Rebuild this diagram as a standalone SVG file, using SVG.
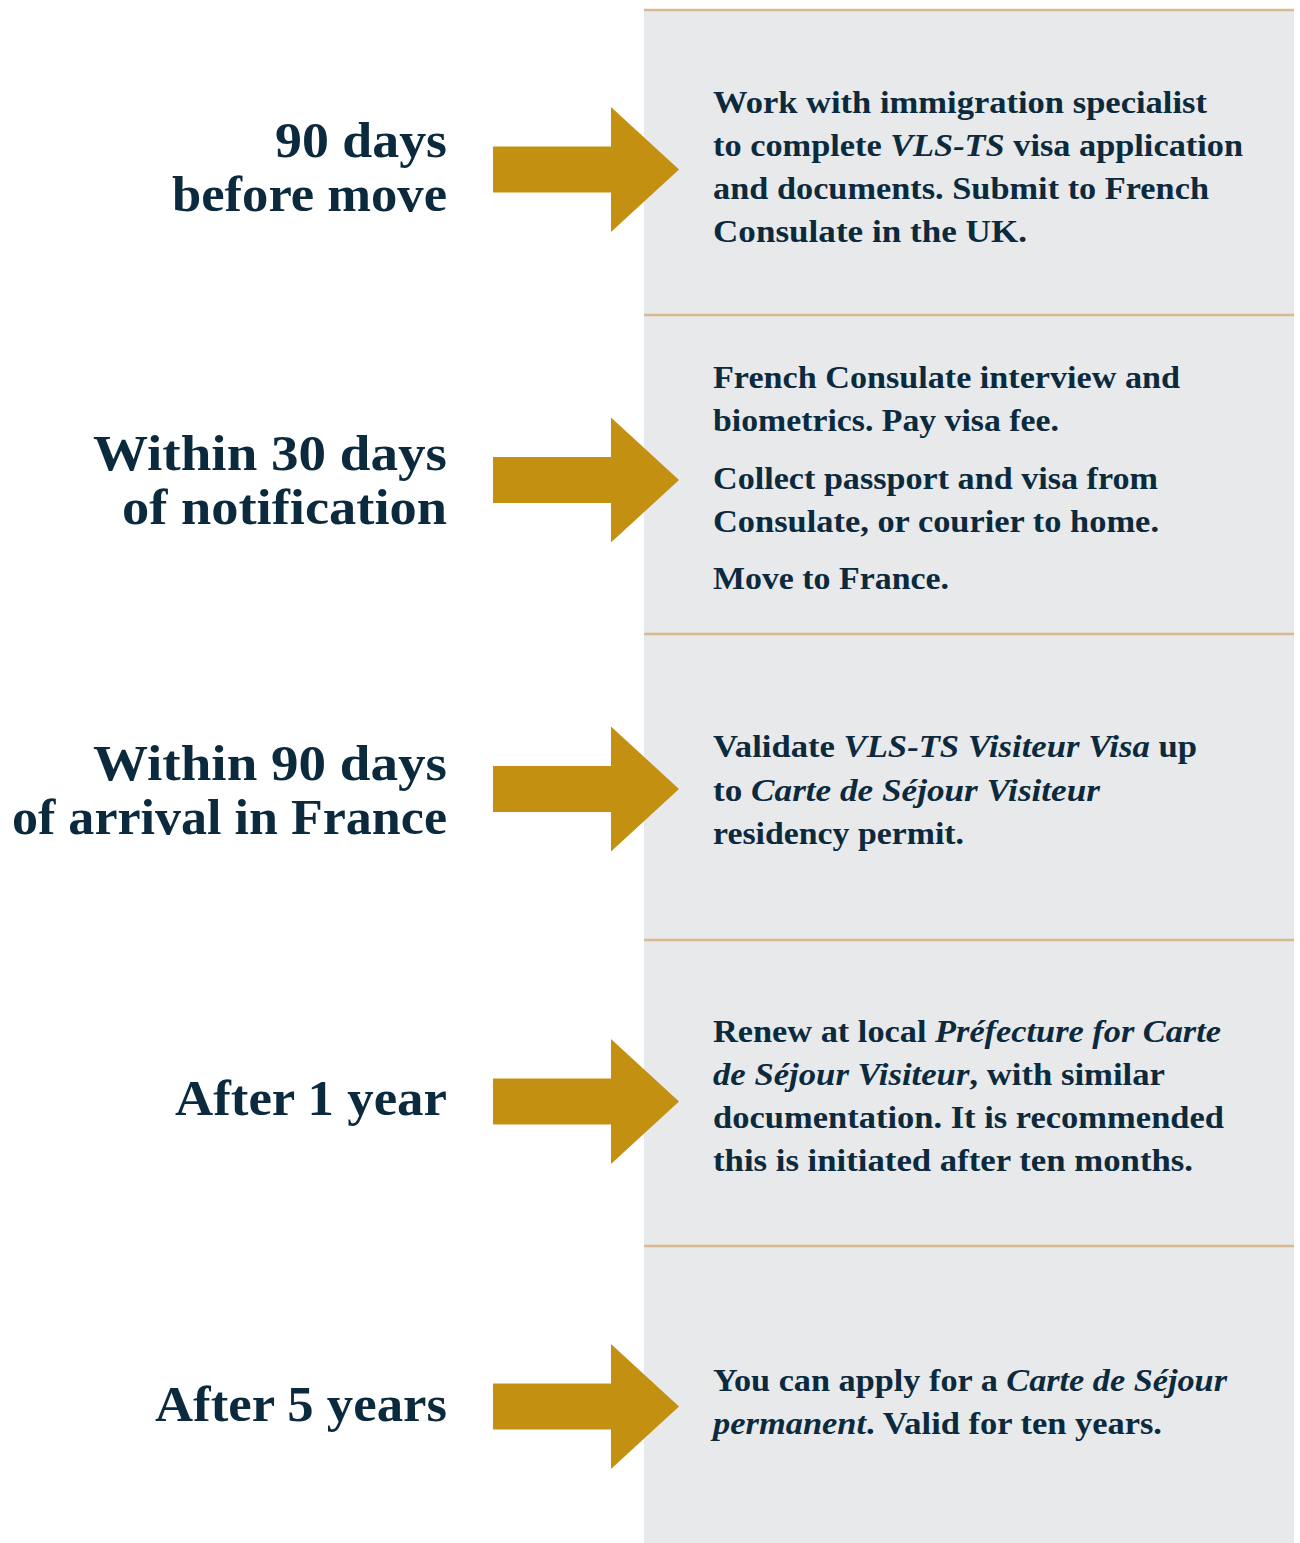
<svg xmlns="http://www.w3.org/2000/svg" xmlns:xlink="http://www.w3.org/1999/xlink" width="1300" height="1543" viewBox="0 0 1300 1543">
<style>
.lbl{font-family:"Liberation Serif","Times New Roman",serif;font-weight:bold;font-size:51px;fill:#0c2a3d;text-anchor:end}
.txt{font-family:"Liberation Serif","Times New Roman",serif;font-weight:bold;font-size:31px;fill:#0c2a3d}
.it{font-style:italic}
.div{stroke:#d9b98f;stroke-width:2.5}
.arr{fill:#c49012}
</style>
<defs>
<polygon id="arrow" class="arr" points="493,-23 611,-23 611,-62.5 679,0 611,62.5 611,23 493,23"/>
</defs>
<rect width="1300" height="1543" fill="#ffffff"/>
<g id="panel">
<rect x="644" y="10" width="650" height="1533" fill="#e8e9eb"/>
<line class="div" x1="644" y1="10" x2="1294" y2="10"/>
<line class="div" x1="644" y1="315" x2="1294" y2="315"/>
<line class="div" x1="644" y1="634" x2="1294" y2="634"/>
<line class="div" x1="644" y1="940" x2="1294" y2="940"/>
<line class="div" x1="644" y1="1246" x2="1294" y2="1246"/>
</g>
<g id="connectors">
<use xlink:href="#arrow" href="#arrow" y="169.5"/>
<use xlink:href="#arrow" href="#arrow" y="480"/>
<use xlink:href="#arrow" href="#arrow" y="789"/>
<use xlink:href="#arrow" href="#arrow" y="1101.5"/>
<use xlink:href="#arrow" href="#arrow" y="1406.5"/>
</g>
<g id="step1">
<text class="lbl" x="447" y="157" textLength="172" lengthAdjust="spacingAndGlyphs">90 days</text>
<text class="lbl" x="447" y="211" textLength="275" lengthAdjust="spacingAndGlyphs">before move</text>
<text class="txt" x="713" y="113" textLength="494" lengthAdjust="spacingAndGlyphs">Work with immigration specialist</text>
<text class="txt" x="713" y="156" textLength="530" lengthAdjust="spacingAndGlyphs">to complete <tspan class="it">VLS-TS</tspan> visa application</text>
<text class="txt" x="713" y="199" textLength="496" lengthAdjust="spacingAndGlyphs">and documents. Submit to French</text>
<text class="txt" x="713" y="242" textLength="314" lengthAdjust="spacingAndGlyphs">Consulate in the UK.</text>
</g>
<g id="step2">
<text class="lbl" x="447" y="470" textLength="354" lengthAdjust="spacingAndGlyphs">Within 30 days</text>
<text class="lbl" x="447" y="524" textLength="325" lengthAdjust="spacingAndGlyphs">of notification</text>
<text class="txt" x="713" y="388" textLength="467" lengthAdjust="spacingAndGlyphs">French Consulate interview and</text>
<text class="txt" x="713" y="431" textLength="346" lengthAdjust="spacingAndGlyphs">biometrics. Pay visa fee.</text>
<text class="txt" x="713" y="489" textLength="445" lengthAdjust="spacingAndGlyphs">Collect passport and visa from</text>
<text class="txt" x="713" y="532" textLength="446" lengthAdjust="spacingAndGlyphs">Consulate, or courier to home.</text>
<text class="txt" x="713" y="589" textLength="236" lengthAdjust="spacingAndGlyphs">Move to France.</text>
</g>
<g id="step3">
<text class="lbl" x="447" y="780" textLength="354" lengthAdjust="spacingAndGlyphs">Within 90 days</text>
<text class="lbl" x="447" y="834" textLength="435" lengthAdjust="spacingAndGlyphs">of arrival in France</text>
<text class="txt" x="713" y="757" textLength="484" lengthAdjust="spacingAndGlyphs">Validate <tspan class="it">VLS-TS Visiteur Visa</tspan> up</text>
<text class="txt" x="713" y="801" textLength="387" lengthAdjust="spacingAndGlyphs">to <tspan class="it">Carte de Séjour Visiteur</tspan></text>
<text class="txt" x="713" y="844" textLength="251" lengthAdjust="spacingAndGlyphs">residency permit.</text>
</g>
<g id="step4">
<text class="lbl" x="447" y="1115" textLength="272" lengthAdjust="spacingAndGlyphs">After 1 year</text>
<text class="txt" x="713" y="1042" textLength="508" lengthAdjust="spacingAndGlyphs">Renew at local <tspan class="it">Préfecture for Carte</tspan></text>
<text class="txt" x="713" y="1085" textLength="452" lengthAdjust="spacingAndGlyphs"><tspan class="it">de Séjour Visiteur</tspan>, with similar</text>
<text class="txt" x="713" y="1128" textLength="511" lengthAdjust="spacingAndGlyphs">documentation. It is recommended</text>
<text class="txt" x="713" y="1171" textLength="480" lengthAdjust="spacingAndGlyphs">this is initiated after ten months.</text>
</g>
<g id="step5">
<text class="lbl" x="447" y="1421" textLength="292" lengthAdjust="spacingAndGlyphs">After 5 years</text>
<text class="txt" x="713" y="1391" textLength="514" lengthAdjust="spacingAndGlyphs">You can apply for a <tspan class="it">Carte de Séjour</tspan></text>
<text class="txt" x="713" y="1434" textLength="449" lengthAdjust="spacingAndGlyphs"><tspan class="it">permanent</tspan>. Valid for ten years.</text>
</g>
</svg>
